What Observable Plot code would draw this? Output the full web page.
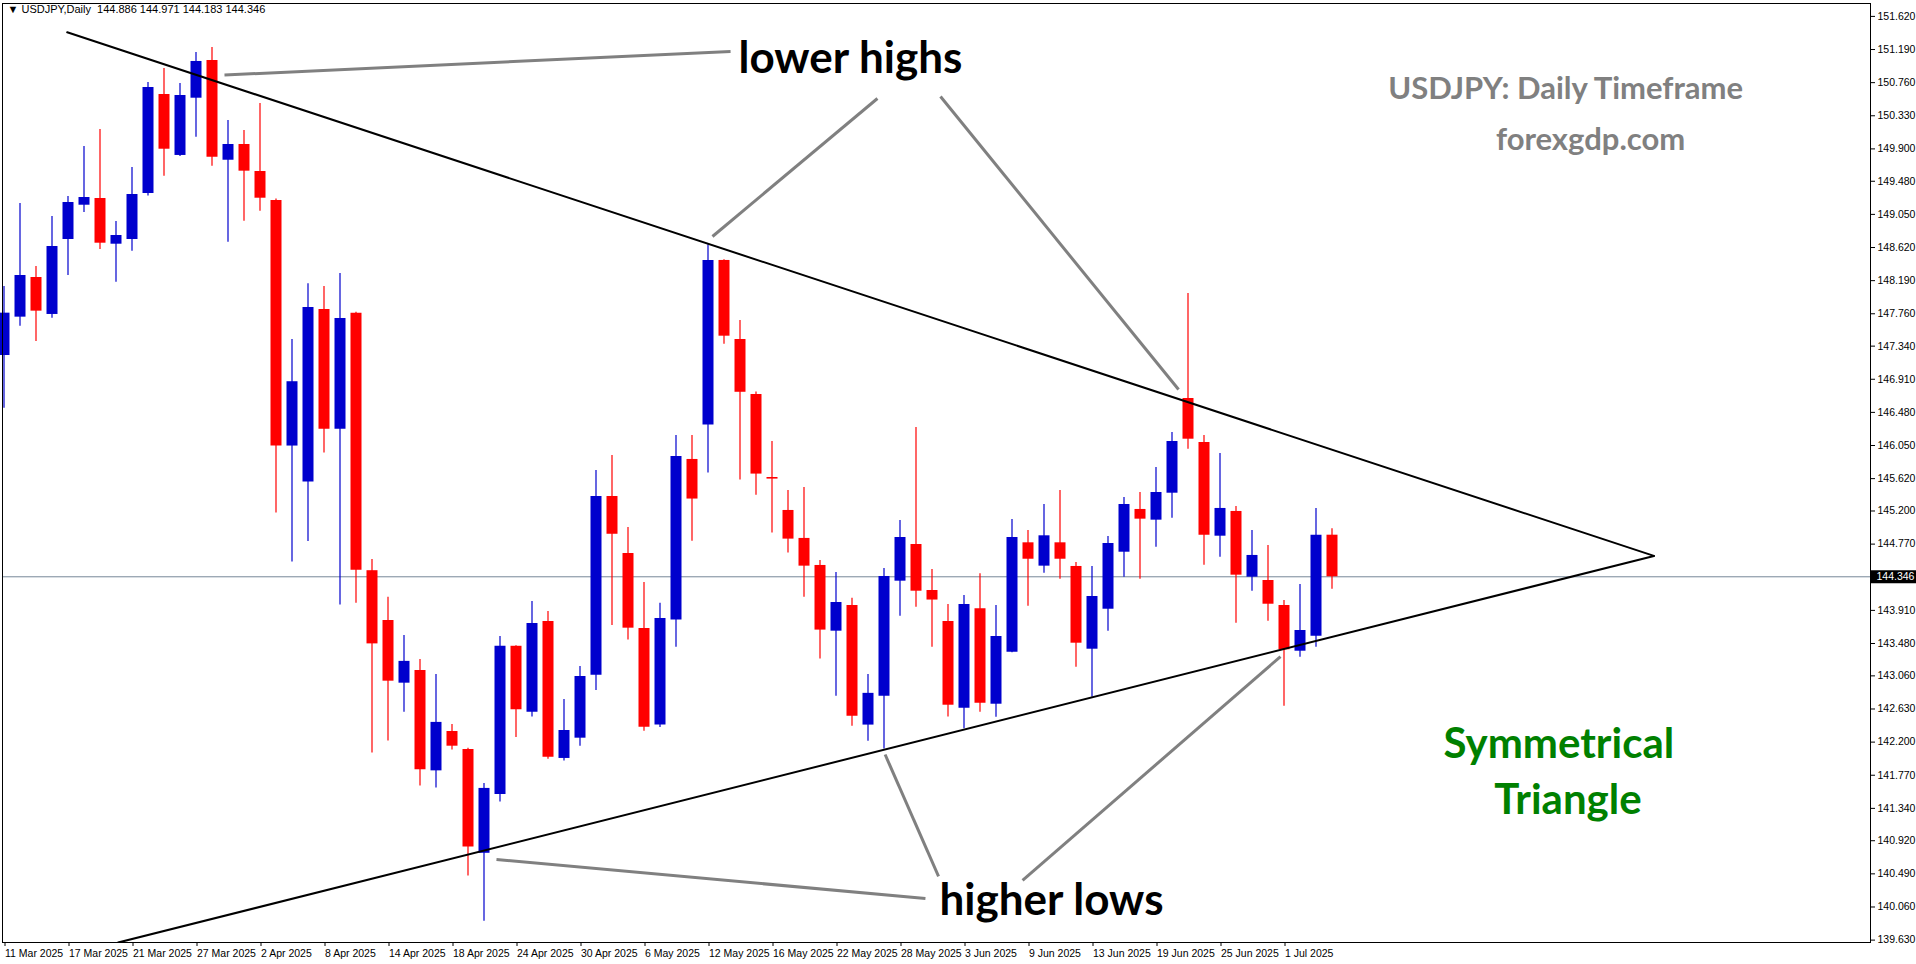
<!DOCTYPE html>
<html><head><meta charset="utf-8">
<script src="https://cdn.jsdelivr.net/npm/d3@7"></script>
<script src="https://cdn.jsdelivr.net/npm/@observablehq/plot@0.6"></script>
<style>html,body{margin:0;padding:0;background:#fff;overflow:hidden}</style>
</head><body><div id="chart"></div>
<script>
const symbol = "USDJPY,Daily";
const dates = ["11 Mar 2025","12 Mar 2025","13 Mar 2025","14 Mar 2025","17 Mar 2025","18 Mar 2025","19 Mar 2025","20 Mar 2025","21 Mar 2025","24 Mar 2025","25 Mar 2025","26 Mar 2025","27 Mar 2025","28 Mar 2025","31 Mar 2025",
"1 Apr 2025","2 Apr 2025","3 Apr 2025","4 Apr 2025","7 Apr 2025","8 Apr 2025","9 Apr 2025","10 Apr 2025","11 Apr 2025","14 Apr 2025","15 Apr 2025","16 Apr 2025","17 Apr 2025","18 Apr 2025","21 Apr 2025","22 Apr 2025","23 Apr 2025","24 Apr 2025","25 Apr 2025","28 Apr 2025","29 Apr 2025","30 Apr 2025",
"1 May 2025","2 May 2025","5 May 2025","6 May 2025","7 May 2025","8 May 2025","9 May 2025","12 May 2025","13 May 2025","14 May 2025","15 May 2025","16 May 2025","19 May 2025","20 May 2025","21 May 2025","22 May 2025","23 May 2025","26 May 2025","27 May 2025","28 May 2025","29 May 2025","30 May 2025",
"2 Jun 2025","3 Jun 2025","4 Jun 2025","5 Jun 2025","6 Jun 2025","9 Jun 2025","10 Jun 2025","11 Jun 2025","12 Jun 2025","13 Jun 2025","16 Jun 2025","17 Jun 2025","18 Jun 2025","19 Jun 2025","20 Jun 2025","23 Jun 2025","24 Jun 2025","25 Jun 2025","26 Jun 2025","27 Jun 2025","30 Jun 2025",
"1 Jul 2025","2 Jul 2025","3 Jul 2025","4 Jul 2025"];

const open = [147.218,147.716,148.231,147.751,148.724,149.169,149.256,148.663,148.724,149.321,150.606,149.815,150.558,151.048,149.753,149.957,149.607,149.230,146.043,145.577,
147.816,146.262,147.766,144.425,143.779,142.965,143.130,141.827,142.338,142.104,140.757,141.519,143.444,142.589,143.766,141.988,142.251,143.068,145.388,144.648,
143.676,142.421,143.784,145.869,146.315,148.452,147.426,146.712,145.635,145.207,144.844,144.493,143.640,143.973,142.421,142.796,144.289,144.765,144.168,143.766,
142.640,143.931,142.692,143.367,144.787,144.484,144.787,144.480,143.406,143.925,144.665,145.220,145.081,145.431,146.660,146.089,144.873,145.194,144.341,144.298,
143.973,143.380,143.575,144.886];
const high = [148.114,149.191,148.374,149.023,149.282,149.931,150.152,148.958,149.659,150.762,150.944,150.749,151.151,151.216,150.269,150.139,150.489,149.251,147.426,148.150,
148.114,148.283,147.780,144.571,144.079,143.584,143.273,143.078,142.430,142.120,141.663,143.571,143.450,144.025,143.896,142.753,143.182,145.726,145.921,144.986,
144.272,144.001,146.180,146.180,148.655,148.460,147.673,146.746,146.102,145.466,145.505,144.558,144.402,144.066,143.078,144.455,145.077,146.284,144.441,143.987,
144.103,144.385,143.973,145.090,144.947,145.284,145.466,144.532,144.480,144.869,145.375,145.440,145.765,146.219,148.023,146.180,145.946,145.259,144.947,144.752,
144.038,144.246,145.233,144.971];
const low = [146.534,147.599,147.400,147.703,148.257,149.075,148.594,148.170,148.572,149.290,149.546,149.800,150.052,149.676,148.689,148.962,149.092,145.174,144.538,144.804,
145.954,143.979,144.003,142.059,142.216,142.589,141.632,141.606,142.097,140.461,139.876,141.424,142.260,142.525,141.977,141.955,142.147,142.870,143.714,143.526,
142.342,142.390,143.431,144.808,145.693,147.366,145.601,145.406,144.915,144.655,144.080,143.278,142.796,142.407,142.212,142.110,143.835,143.950,143.431,142.525,
142.373,142.589,142.524,143.360,143.964,144.393,144.315,143.173,142.783,143.640,144.341,144.315,144.730,145.107,146.002,144.497,144.600,143.744,144.159,143.770,
142.666,143.302,143.432,144.183];
const close = [147.768,148.257,147.794,148.633,149.204,149.269,148.676,148.776,149.308,150.697,149.896,150.593,151.035,149.792,149.957,149.611,149.260,146.043,146.878,147.842,
146.262,147.699,144.432,143.475,142.991,143.248,141.840,142.456,142.147,140.839,141.599,143.444,142.620,143.740,142.003,142.351,143.052,145.388,144.898,143.679,
142.393,143.806,145.908,145.355,148.452,147.469,146.741,145.679,145.614,144.835,144.484,143.654,144.012,142.537,142.833,144.350,144.856,144.159,144.044,142.679,
143.987,142.705,143.571,144.856,144.574,144.878,144.574,143.484,144.090,144.778,145.284,145.094,145.440,146.102,146.132,144.886,145.233,144.367,144.623,143.990,
143.399,143.649,144.886,144.346];

const priceTicks = [151.620,151.190,150.760,150.330,149.900,149.480,149.050,148.620,148.190,147.760,147.340,146.910,146.480,146.050,145.620,145.200,144.770,
143.910,143.480,143.060,142.630,142.200,141.770,141.340,140.920,140.490,140.060,139.630];
const tickDates = ["11 Mar 2025","17 Mar 2025","21 Mar 2025","27 Mar 2025","2 Apr 2025","8 Apr 2025","14 Apr 2025","18 Apr 2025","24 Apr 2025","30 Apr 2025",
"6 May 2025","12 May 2025","16 May 2025","22 May 2025","28 May 2025","3 Jun 2025","9 Jun 2025","13 Jun 2025","19 Jun 2025","25 Jun 2025","1 Jul 2025"];

// trendlines (bar index, price)
const upperTrend = [{i: 3.95, p: 151.414}, {i: 103.12, p: 144.617}];
const lowerTrend = [{i: 7.13, p: 139.598}, {i: 103.12, p: 144.617}];
// grey pointer segments
const pointers = [
  {i1: 13.78, p1: 150.859, i2: 45.41, p2: 151.164},
  {i1: 44.28, p1: 148.763, i2: 54.59, p2: 150.554},
  {i1: 58.53, p1: 150.580, i2: 73.41, p2: 146.777},
  {i1: 30.78, p1: 140.677, i2: 57.59, p2: 140.170},
  {i1: 55.07, p1: 142.039, i2: 58.41, p2: 140.456},
  {i1: 79.78, p1: 143.311, i2: 63.66, p2: 140.404}
];

const rows = dates.map((d, i) => ({i, d, o: open[i], h: high[i], l: low[i], c: close[i]}));
const BLUE = "#0000cd", RED = "#ff0000";
const col = r => (r.c >= r.o ? BLUE : RED);
const last = rows[rows.length - 1];
const tickIdx = tickDates.map(t => dates.indexOf(t));
const xDomain = [-1.5 / 16, (1870 - 3.5) / 16];
const header = `▼ ${symbol}  ${last.o.toFixed(3)} ${last.h.toFixed(3)} ${last.l.toFixed(3)} ${last.c.toFixed(3)}`;

const chart = Plot.plot({
  width: 1916, height: 964,
  marginLeft: 2, marginRight: 46, marginTop: 3, marginBottom: 22,
  x: {type: "linear", domain: xDomain, axis: null},
  y: {domain: [139.599, 151.7874], axis: null},
  color: {type: "identity"},
  style: {background: "white", fontFamily: "'Liberation Sans', Arial, sans-serif", fontSize: "10.5px", color: "black"},
  marks: [
    Plot.ruleY([last.c], {stroke: "#778899", strokeWidth: 1}),
    Plot.ruleX(rows, {x: "i", y1: "l", y2: "h", stroke: col, strokeWidth: 1.2}),
    Plot.ruleX(rows, {x: "i", y1: "o", y2: "c", stroke: col, strokeWidth: 11}),
    Plot.line(upperTrend, {x: "i", y: "p", stroke: "black", strokeWidth: 2}),
    Plot.line(lowerTrend, {x: "i", y: "p", stroke: "black", strokeWidth: 2, clip: true}),
    Plot.link(pointers, {x1: "i1", y1: "p1", x2: "i2", y2: "p2", stroke: "#808080", strokeWidth: 3}),
    Plot.text(["lower highs"], {x: 52.9, y: 151.073, fontFamily: "Lato", fontWeight: "bold", fontSize: 44, fill: "black"}),
    Plot.text(["higher lows"], {x: 65.47, y: 140.144, fontFamily: "Lato", fontWeight: "bold", fontSize: 44, fill: "black"}),
    Plot.text(["USDJPY: Daily Timeframe"], {x: 97.6, y: 150.680, fontFamily: "Lato", fontWeight: "bold", fontSize: 31, fill: "#808080"}),
    Plot.text(["forexgdp.com"], {x: 99.16, y: 150.009, fontFamily: "Lato", fontWeight: "bold", fontSize: 31, fill: "#808080"}),
    Plot.text(["Symmetrical"], {x: 97.18, y: 142.163, fontFamily: "Lato", fontWeight: "bold", fontSize: 42, fill: "#008000"}),
    Plot.text(["Triangle"], {x: 97.75, y: 141.446, fontFamily: "Lato", fontWeight: "bold", fontSize: 42, fill: "#008000"}),
    Plot.text([header], {frameAnchor: "top-left", dx: 5, dy: 2, textAnchor: "start", lineAnchor: "top", fontSize: 11, fill: "black"}),
    Plot.frame({stroke: "black", shapeRendering: "crispEdges"}),
    Plot.axisY({anchor: "right", ticks: priceTicks, tickSize: 4, tickPadding: 3, tickFormat: d => d.toFixed(3), label: null, stroke: "black"}),
    Plot.axisX({anchor: "bottom", ticks: tickIdx, tickSize: 4, tickPadding: 3, tickFormat: i => dates[i], textAnchor: "start", dx: 1, label: null, stroke: "black"}),
    Plot.ruleY([last.c], {x1: xDomain[1], x2: xDomain[1] + 46 / 16, stroke: "black", strokeWidth: 13}),
    Plot.text([last.c], {x: xDomain[1], y: d => d, text: d => d.toFixed(3), fill: "white", textAnchor: "start", dx: 6})
  ]
});
document.getElementById("chart").appendChild(chart);
</script>
</body></html>
